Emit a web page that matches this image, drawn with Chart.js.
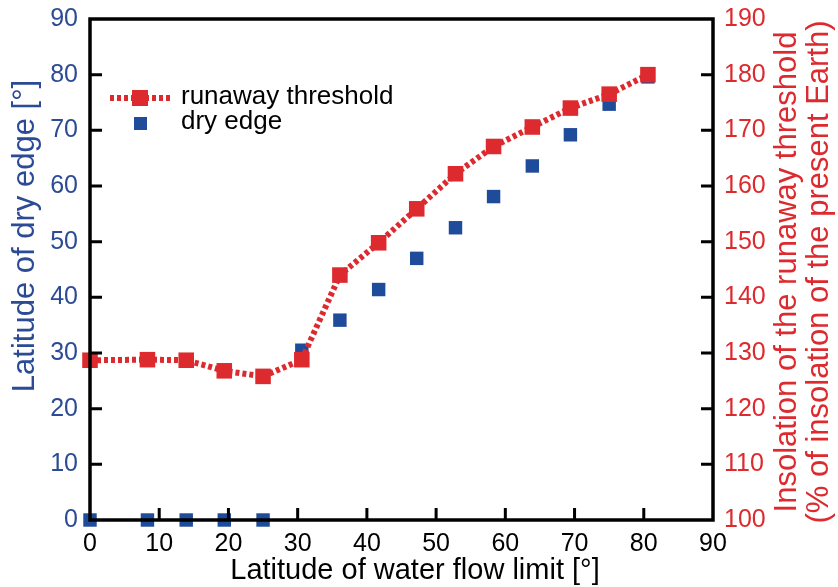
<!DOCTYPE html>
<html>
<head>
<meta charset="utf-8">
<script src="https://cdn.jsdelivr.net/npm/chart.js@4.4.1/dist/chart.umd.min.js"></script>
<style>
  html, body { margin: 0; padding: 0; background: #fff; }
  #wrap { width: 838px; height: 587px; }
</style>
</head>
<body>
<div id="wrap"><canvas id="chart"></canvas></div>
<script>
// latitude of water flow limit (deg)
const flowLimit = [0, 8.3, 13.9, 19.4, 25, 30.6, 36.1, 41.7, 47.2, 52.8, 58.3, 63.9, 69.4, 75, 80.6];
// runaway threshold insolation (% of present Earth) - right axis
const runaway = [128.7, 128.8, 128.7, 126.8, 125.8, 128.8, 144.0, 149.8, 155.9, 162.2, 167.1, 170.6, 174.0, 176.5, 180.0];
// latitude of dry edge (deg) - left axis
const dryEdge = [0, 0, 0, 0, 0, 30.5, 35.9, 41.4, 47.0, 52.5, 58.1, 63.6, 69.2, 74.7, 79.6];

const xTicks = [0, 10, 20, 30, 40, 50, 60, 70, 80, 90];
const leftTicks = [0, 10, 20, 30, 40, 50, 60, 70, 80, 90];
const rightTicks = [100, 110, 120, 130, 140, 150, 160, 170, 180, 190];

const RED = "#dc2a2e";
const BLUE = "#1f4b9b";
const BLUE_TXT = "#2c4b96";
const FONT = "'Liberation Sans', Arial, sans-serif";

const ctx = document.getElementById("chart").getContext("2d");

// frame, inward ticks, legend, axis titles
const decor = {
    id: "decor",
    afterDraw(chart) {
        const { ctx, chartArea: a, scales } = chart;
        const L = 12;
        ctx.save();
        ctx.strokeStyle = "#000";
        ctx.lineWidth = 3;
        ctx.beginPath();
        leftTicks.slice(1, -1).forEach(v => {
            const y = scales.y.getPixelForValue(v);
            ctx.moveTo(a.left, y); ctx.lineTo(a.left + L, y);
        });
        rightTicks.slice(1, -1).forEach(v => {
            const y = scales.y2.getPixelForValue(v);
            ctx.moveTo(a.right, y); ctx.lineTo(a.right - L, y);
        });
        xTicks.slice(1, -1).forEach(v => {
            const x = scales.x.getPixelForValue(v);
            ctx.moveTo(x, a.bottom); ctx.lineTo(x, a.bottom - L);
        });
        ctx.stroke();
        ctx.lineWidth = 3.5;
        ctx.strokeRect(a.left, a.top, a.right - a.left, a.bottom - a.top);

        // legend
        ctx.strokeStyle = RED;
        ctx.lineWidth = 6;
        ctx.setLineDash([4, 3]);
        ctx.beginPath();
        ctx.moveTo(110, 98); ctx.lineTo(170, 98);
        ctx.stroke();
        ctx.setLineDash([]);
        ctx.fillStyle = RED;
        ctx.fillRect(132, 90, 16, 16);
        ctx.fillStyle = BLUE;
        ctx.fillRect(134, 117, 13, 13);
        ctx.fillStyle = "#000";
        ctx.font = "26px " + FONT;
        ctx.textBaseline = "alphabetic";
        ctx.textAlign = "left";
        ctx.fillText("runaway threshold", 181, 104);
        ctx.fillText("dry edge", 181, 129);

        // x axis title
        ctx.textBaseline = "middle";
        ctx.textAlign = "center";
        ctx.font = "29px " + FONT;
        ctx.fillText("Latitude of water flow limit [°]", 415, 571);

        // left axis title
        ctx.save();
        ctx.fillStyle = BLUE_TXT;
        ctx.font = "31px " + FONT;
        ctx.translate(25, 236);
        ctx.rotate(-Math.PI / 2);
        ctx.fillText("Latitude of dry edge [°]", 0, 0);
        ctx.restore();

        // right axis title (reads bottom to top)
        ctx.fillStyle = RED;
        ctx.font = "31px " + FONT;
        ctx.translate(787, 272);
        ctx.rotate(-Math.PI / 2);
        ctx.fillText("Insolation of the runaway threshold", 0, 0);
        ctx.fillText("(% of insolation of the present Earth)", 0, 32);
        ctx.restore();
    }
};

const noPadY = s => { s.paddingTop = 0; s.paddingBottom = 0; };

new Chart(ctx, {
    type: "scatter",
    data: {
        datasets: [
            {
                label: "runaway threshold",
                data: flowLimit.map((x, i) => ({ x: x, y: runaway[i] })),
                yAxisID: "y2",
                showLine: true,
                borderColor: RED,
                borderWidth: 6,
                borderDash: [4, 3],
                backgroundColor: RED,
                pointStyle: "rect",
                pointRadius: 11,
                pointBorderWidth: 0,
                order: 1
            },
            {
                label: "dry edge",
                data: flowLimit.map((x, i) => ({ x: x, y: dryEdge[i] })),
                yAxisID: "y",
                backgroundColor: BLUE,
                borderColor: BLUE,
                pointStyle: "rect",
                pointRadius: 9.5,
                pointBorderWidth: 0,
                order: 2
            }
        ]
    },
    options: {
        responsive: true,
        maintainAspectRatio: false,
        animation: false,
        clip: false,
        layout: { padding: { top: 19, left: 0, right: 0, bottom: 0 } },
        plugins: { legend: { display: false }, tooltip: { enabled: false } },
        scales: {
            x: {
                type: "linear", min: 0, max: 90,
                afterFit: s => { s.height = 67; s.paddingLeft = 0; s.paddingRight = 0; },
                afterBuildTicks: s => { s.ticks = xTicks.map(v => ({ value: v })); },
                grid: { display: false },
                border: { display: false },
                ticks: { color: "#000", font: { family: FONT, size: 25 }, padding: 1, maxRotation: 0 }
            },
            y: {
                type: "linear", position: "left", min: 0, max: 90,
                afterFit: s => { s.width = 90; noPadY(s); },
                afterBuildTicks: s => { s.ticks = leftTicks.map(v => ({ value: v })); },
                grid: { display: false },
                border: { display: false },
                ticks: { color: BLUE_TXT, font: { family: FONT, size: 25 }, padding: 4 }
            },
            y2: {
                type: "linear", position: "right", min: 100, max: 190,
                afterFit: s => { s.width = 125; noPadY(s); },
                afterBuildTicks: s => { s.ticks = rightTicks.map(v => ({ value: v })); },
                grid: { display: false },
                border: { display: false },
                ticks: { color: RED, font: { family: FONT, size: 25 }, padding: 3 }
            }
        }
    },
    plugins: [decor]
});
</script>
</body>
</html>
